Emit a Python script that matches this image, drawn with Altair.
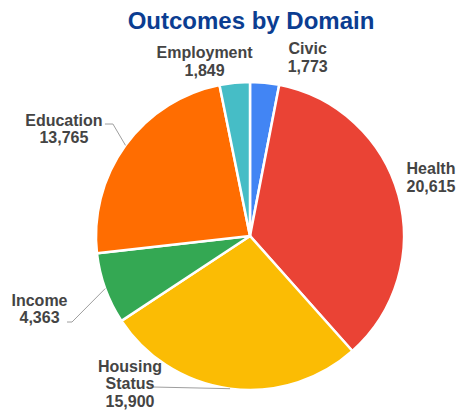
import math
import altair as alt
import pandas as pd

# ---------------- data ----------------
domains = ["Civic", "Health", "Housing Status", "Income", "Education", "Employment"]
label_names = ["Civic", "Health", "Housing\nStatus", "Income", "Education", "Employment"]
counts = [1773, 20615, 15900, 4363, 13765, 1849]
colors = ["#4285F4", "#EA4335", "#FBBC04", "#34A853", "#FF6D01", "#46BDC6"]

# ---------------- layout / style ----------------
W, H = 449, 404
CX, CY, R = 242, 228, 154
LABEL_R = 185
LINE_H = 17.5
FONT = "Liberation Sans, Arial, sans-serif"
label_nudge = {
    "Civic": (40, 6),
    "Employment": (-27, 10),
    "Health": (2.6, -9),
    "Education": (-36.5, 2.4),
    "Income": (-36.6, 10.4),
    "Housing Status": (-96, -35),
}
# leader line points relative to label block centre (elbow, end)
leader_pts = {
    "Education": [(49, -5.5), (41, -5.5)],
    "Income": [(32.5, 12.5), (27.5, 12.5)],
    "Housing Status": [(20, 2.5)],
}

# ---------------- derived tables ----------------
total = sum(counts)
df = pd.DataFrame({"domain": domains, "count": counts, "idx": range(len(domains))})

rows, lines = [], []
cum = 0.0
for d, name, c in zip(domains, label_names, counts):
    mid = (cum + c / 2) / total * 2 * math.pi
    cum += c
    bx = CX + LABEL_R * math.sin(mid)
    by = CY - LABEL_R * math.cos(mid)
    nx, ny = label_nudge[d]
    lx, ly = bx + nx, by + ny
    text = f"{name}\n{c:,}"
    n_lines = text.count("\n") + 1
    rows.append({"domain": d, "label": text, "lx": lx,
                 "ly": ly - (n_lines - 1) * LINE_H / 2})
    if d in leader_pts:
        ex = CX + R * math.sin(mid)
        ey = CY - R * math.cos(mid)
        pts = [(ex, ey)] + [(lx + ox, ly + oy) for ox, oy in leader_pts[d]]
        for k, (px, py) in enumerate(pts):
            lines.append({"domain": d, "k": k, "px": px, "py": py})

labels_df = pd.DataFrame(rows)
lines_df = pd.DataFrame(lines)

pie = alt.Chart(df).mark_arc(outerRadius=R, stroke="white", strokeWidth=2.5).encode(
    theta=alt.Theta("count:Q", stack=True),
    order=alt.Order("idx:Q", sort="ascending"),
    color=alt.Color("domain:N", scale=alt.Scale(domain=domains, range=colors), legend=None),
    x=alt.value(CX),
    y=alt.value(CY),
)

leaders = alt.Chart(lines_df).mark_line(color="#9e9e9e", strokeWidth=1).encode(
    x=alt.X("px:Q", scale=None, axis=None),
    y=alt.Y("py:Q", scale=None, axis=None),
    detail="domain:N",
    order="k:Q",
)

texts = alt.Chart(labels_df).mark_text(
    font=FONT, fontSize=16, fontWeight="bold", color="#444444",
    lineBreak="\n", lineHeight=LINE_H, align="center", baseline="middle",
).encode(
    x=alt.X("lx:Q", scale=None, axis=None),
    y=alt.Y("ly:Q", scale=None, axis=None),
    text="label:N",
)

chart = alt.layer(pie, leaders, texts).properties(
    width=W, height=H,
    autosize=alt.AutoSizeParams(type="none"),
    padding=0,
    title=alt.TitleParams(
        "Outcomes by Domain", font=FONT, fontSize=24, fontWeight="bold",
        color="#0B3D91", anchor="middle", frame="group", dx=18.5, dy=26, offset=0,
    ),
).configure_view(stroke=None)

chart.save("out.html", embed_options={"renderer": "svg", "actions": False})
